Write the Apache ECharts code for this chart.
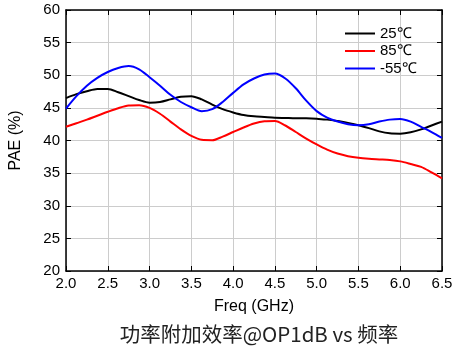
<!DOCTYPE html>
<html><head><meta charset="utf-8">
<script src="https://cdn.jsdelivr.net/npm/echarts@6/dist/echarts.min.js"></script>
<style>html,body{margin:0;padding:0;background:#fff}#c{width:474px;height:346px}</style>
</head><body><div id="c"></div>
<script>
var freq = [2.0,2.125,2.25,2.375,2.5,2.625,2.75,2.875,3.0,3.125,3.25,3.375,3.5,3.625,3.75,3.875,4.0,4.125,4.25,4.375,4.5,4.625,4.75,4.875,5.0,5.125,5.25,5.375,5.5,5.625,5.75,5.875,6.0,6.125,6.25,6.375,6.5];
var pae25 = [46.5,47.1,47.55,47.9,47.9,47.4,46.8,46.2,45.8,45.9,46.3,46.7,46.8,46.3,45.5,44.8,44.3,43.9,43.7,43.6,43.5,43.45,43.4,43.4,43.35,43.2,43.0,42.7,42.35,41.9,41.4,41.1,41.05,41.25,41.7,42.3,42.9];
var pae85 = [42.1,42.65,43.2,43.8,44.4,44.95,45.35,45.4,45.0,44.1,42.9,41.7,40.7,40.1,40.05,40.6,41.3,42.0,42.6,42.95,43.0,42.3,41.3,40.3,39.4,38.6,38.0,37.6,37.35,37.2,37.1,37.0,36.8,36.4,35.95,35.1,34.2];
var paeM55 = [44.9,46.8,48.4,49.6,50.5,51.1,51.4,50.9,49.7,48.4,47.0,45.9,45.1,44.5,44.8,45.9,47.3,48.6,49.5,50.1,50.25,49.5,48.0,46.1,44.5,43.5,42.9,42.5,42.35,42.5,42.9,43.2,43.3,42.9,42.1,41.3,40.4];
var seriesNames = ['25℃','85℃','-55℃'];
var colors = ['#000000','#ff0000','#0000ff'];

function pairs(v){ return freq.map(function(f,i){ return [f, v[i]]; }); }
var chart = echarts.init(document.getElementById('c'));
var font = 'Liberation Sans, Arial, sans-serif';
var axisLine = {show:true,lineStyle:{color:'#000',width:1.5}};
var axisTick = {show:true,inside:true,length:5,lineStyle:{color:'#000',width:1}};
chart.setOption({
  animation:false,
  title:{text:'功率附加效率@OP1dB vs 频率',left:254,textAlign:'center',top:319,
    textStyle:{fontSize:20.5,fontWeight:'normal',color:'#222',fontFamily:'Noto Sans CJK SC, sans-serif'}},
  legend:{data:seriesNames,orient:'vertical',left:340,top:21,itemWidth:30,itemHeight:2,itemGap:2.5,
    icon:'rect',textStyle:{fontSize:15,color:'#000',fontFamily:font}},
  grid:{left:64,right:32,top:10,bottom:75},
  xAxis:[{type:'value',min:2,max:6.5,interval:0.5,position:'bottom',
    name:'Freq (GHz)',nameLocation:'middle',nameGap:28,
    nameTextStyle:{fontSize:16,color:'#000',fontFamily:font},
    axisLabel:{fontSize:15,color:'#000',fontFamily:font,margin:5,
      formatter:function(v){return v.toFixed(1);}},
    splitLine:{show:true,lineStyle:{color:'#cccccc',width:1}},
    axisLine:axisLine,axisTick:axisTick},
   {type:'value',min:2,max:6.5,interval:0.5,position:'top',
    axisLabel:{show:false},splitLine:{show:false},
    axisLine:axisLine,axisTick:axisTick}],
  yAxis:[{type:'value',min:20,max:60,interval:5,position:'left',
    name:'PAE (%)',nameLocation:'middle',nameGap:42,
    nameTextStyle:{fontSize:16,color:'#000',fontFamily:font},
    axisLabel:{fontSize:15,color:'#000',fontFamily:font,margin:6},
    splitLine:{show:true,lineStyle:{color:'#cccccc',width:1}},
    axisLine:axisLine,axisTick:axisTick},
   {type:'value',min:20,max:60,interval:5,position:'right',
    axisLabel:{show:false},splitLine:{show:false},
    axisLine:axisLine,axisTick:axisTick}],
  series:[pae25,pae85,paeM55].map(function(v,i){
    return {name:seriesNames[i],type:'line',data:pairs(v),smooth:0.3,showSymbol:false,
      lineStyle:{color:colors[i],width:2},itemStyle:{color:colors[i]}};
  })
});
</script></body></html>
